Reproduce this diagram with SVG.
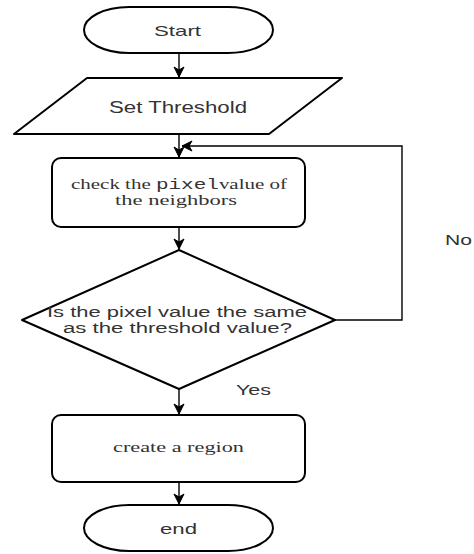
<svg xmlns="http://www.w3.org/2000/svg" width="474" height="554" viewBox="0 0 474 554">
  <style>
    .shape { fill: #ffffff; stroke: #000000; stroke-width: 2; stroke-linejoin: round; }
    .edge { fill: none; stroke: #000000; stroke-width: 1.4; }
    .sans { font-family: "Liberation Sans", Arial, sans-serif; fill: #333333; }
    .serif { font-family: "Liberation Serif", "Times New Roman", serif; fill: #333333; }
    .mono { font-family: "Liberation Mono", "Courier New", monospace; }
  </style>
  <defs>
    <marker id="arrow" markerUnits="userSpaceOnUse" markerWidth="12" markerHeight="12" viewBox="0 0 12 12" refX="11" refY="6" orient="auto">
      <path d="M1,1 L11,6 L1,11 L4,6 Z" fill="#000000" stroke="#000000" stroke-width="1"/>
    </marker>
  </defs>
  <rect width="474" height="554" fill="#ffffff"/>

  <g id="connectors">
    <line class="edge" x1="179" y1="53" x2="179" y2="77" marker-end="url(#arrow)"/>
    <line class="edge" x1="179" y1="134" x2="179" y2="157" marker-end="url(#arrow)"/>
    <line class="edge" x1="179" y1="227" x2="179" y2="249" marker-end="url(#arrow)"/>
    <line class="edge" x1="179" y1="389" x2="179" y2="414" marker-end="url(#arrow)"/>
    <line class="edge" x1="179" y1="482" x2="179" y2="504" marker-end="url(#arrow)"/>
    <path class="edge" d="M335,320 H402 V146 H182" marker-end="url(#arrow)"/>
    <text class="sans" x="236" y="395" font-size="14" textLength="35" lengthAdjust="spacingAndGlyphs">Yes</text>
    <text class="sans" x="445" y="245" font-size="14" textLength="27" lengthAdjust="spacingAndGlyphs">No</text>
  </g>

  <g id="start">
    <rect class="shape" x="84" y="7" width="189" height="46" rx="45" ry="23"/>
    <text class="sans" x="154" y="36" font-size="15" textLength="47" lengthAdjust="spacingAndGlyphs">Start</text>
  </g>

  <g id="set-threshold">
    <path class="shape" d="M14,134 L87,78 L342,78 L269,134 Z"/>
    <text class="sans" x="109" y="113" font-size="16" textLength="138" lengthAdjust="spacingAndGlyphs">Set Threshold</text>
  </g>

  <g id="check-neighbors">
    <rect class="shape" x="52" y="158" width="253" height="69" rx="9" ry="9"/>
    <text class="serif" x="71" y="189" font-size="14" textLength="216" lengthAdjust="spacingAndGlyphs">check the <tspan class="mono">pixel</tspan>value of</text>
    <text class="serif" x="115" y="205" font-size="14" textLength="122" lengthAdjust="spacingAndGlyphs">the neighbors</text>
  </g>

  <g id="decision">
    <path class="shape" d="M179,250 L335,320 L179,389 L22,320 Z"/>
    <text class="sans" x="47" y="317" font-size="14" textLength="260" lengthAdjust="spacingAndGlyphs">Is the pixel value the same</text>
    <text class="sans" x="63" y="333" font-size="14" textLength="229" lengthAdjust="spacingAndGlyphs">as the threshold value?</text>
  </g>

  <g id="create-region">
    <rect class="shape" x="52" y="415" width="253" height="67" rx="9" ry="9"/>
    <text class="serif" x="113" y="452" font-size="15" textLength="131" lengthAdjust="spacingAndGlyphs">create a region</text>
  </g>

  <g id="end">
    <rect class="shape" x="84" y="505" width="189" height="46" rx="45" ry="23"/>
    <text class="sans" x="160" y="534" font-size="15" textLength="37" lengthAdjust="spacingAndGlyphs">end</text>
  </g>
</svg>
